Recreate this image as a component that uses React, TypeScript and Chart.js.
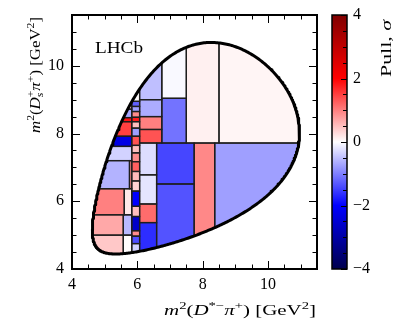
import React, { useEffect, useRef } from 'react';
import { Chart, registerables } from 'chart.js';
Chart.register(...registerables);

// Axis settings
const axisMin = 4;
const axisMax = 11.5;
const xTicks = [4, 6, 8, 10];
const yTicks = [4, 6, 8, 10];
const pullMin = -4;
const pullMax = 4;
const pullTicks = [-4, -2, 0, 2, 4];

// Particle masses (GeV) defining the Dalitz boundary of B0 -> D*- Ds+ pi+
const mB = 5.27966;
const mDst = 2.01026;
const mPi = 0.13957;
const mDs = 1.96835;

// Adaptive bins: edges in m2(D*pi) (x) and m2(Ds pi) (y), and pull values
const binX0 = [7.5, 8.5, 6.75, 6.75, 6.07, 6.07, 6.07, 6.07, 8.37, 7.74, 6.59, 6.59, 6.07, 6.07, 6.07, 6.07,
  5.83, 5.83, 5.83, 5.83, 5.83, 5.83, 5.83, 5.83, 5.83, 5.83, 5.83, 5.83, 5.83, 5.83, 5.83, 5.83, 5.83, 5.83, 5.83,
  4.4, 4.4, 4.4, 4.4, 4.4,
  4.4, 4.4, 4.4, 5.76, 4.4, 5.6, 4.4, 5.57, 4.4, 5.57];
const binX1 = [8.5, 11.5, 7.5, 7.5, 6.75, 6.75, 6.75, 6.75, 11.5, 8.37, 7.74, 7.74, 6.59, 6.59, 6.59, 6.59,
  6.07, 6.07, 6.07, 6.07, 6.07, 6.07, 6.07, 6.07, 6.07, 6.07, 6.07, 6.07, 6.07, 6.07, 6.07, 6.07, 6.07, 6.07, 6.07,
  5.83, 5.83, 5.83, 5.83, 5.83,
  5.83, 5.83, 5.76, 5.83, 5.6, 5.83, 5.57, 5.83, 5.57, 5.83];
const binY0 = [7.72, 7.72, 9.04, 7.72, 9.0, 8.5, 8.12, 7.72, 4.0, 4.0, 6.51, 4.0, 6.78, 5.92, 5.37, 4.0,
  4.0, 4.75, 4.97, 5.13, 5.55, 5.85, 6.3, 6.6, 6.88, 7.17, 7.43, 7.65, 7.92, 8.16, 8.35, 8.48, 8.65, 8.8, 8.95,
  7.92, 8.35, 8.47, 8.72, 8.95,
  7.62, 7.2, 6.37, 6.37, 5.6, 5.6, 5.0, 5.0, 4.0, 4.0];
const binY1 = [11.5, 11.5, 11.5, 9.04, 11.5, 9.0, 8.5, 8.12, 7.72, 7.72, 7.72, 6.51, 7.72, 6.78, 5.92, 5.37,
  4.75, 4.97, 5.13, 5.55, 5.85, 6.3, 6.6, 6.88, 7.17, 7.43, 7.65, 7.92, 8.16, 8.35, 8.48, 8.65, 8.8, 8.95, 9.5,
  8.35, 8.47, 8.72, 8.95, 9.5,
  7.92, 7.62, 7.2, 7.2, 6.37, 6.37, 5.6, 5.6, 5.0, 5.0];
const binPull = [0.12, 0.08, -0.05, -1.1, -0.5, -0.65, 1.0, 1.35, -0.75, 0.93, -1.45, -1.35, -0.27, -0.2, 1.15, -1.65,
  -0.35, -1.4, 0.9, -2.6, 0.5, -2.0, 0.35, 0.55, 1.25, 0.9, 0.5, 1.35, -0.75, 0.5, 1.8, 0.9, -0.75, -1.25, 0.02,
  1.5, 1.9, -0.7, 0.5, 0.0,
  -2.3, -0.35, -0.6, 0.9, 1.0, 0.18, 0.68, -0.55, 0.43, 0.02];

const SERIF = '"Liberation Serif", "DejaVu Serif", serif';

function dalitzBoundary() {
  const xmin = (mDst + mPi) * (mDst + mPi);
  const xmax = (mB - mDs) * (mB - mDs);
  const upper: { x: number; y: number }[] = [];
  const lower: { x: number; y: number }[] = [];
  const N = 240;
  for (let i = 0; i <= N; i++) {
    const th = (Math.PI * i) / N;
    const x = xmin + ((xmax - xmin) * (1 - Math.cos(th))) / 2;
    const s = Math.sqrt(x);
    const E2 = (x - mDst * mDst + mPi * mPi) / (2 * s);
    const E3 = (mB * mB - x - mDs * mDs) / (2 * s);
    const p2 = Math.sqrt(Math.max(0, E2 * E2 - mPi * mPi));
    const p3 = Math.sqrt(Math.max(0, E3 * E3 - mDs * mDs));
    const e = (E2 + E3) * (E2 + E3);
    upper.push({ x, y: e - (p2 - p3) * (p2 - p3) });
    lower.push({ x, y: e - (p2 + p3) * (p2 + p3) });
  }
  return upper.concat(lower.reverse());
}

function seismic(p: number) {
  const t = Math.min(1, Math.max(0, (p - pullMin) / (pullMax - pullMin)));
  let r: number, g: number, b: number;
  if (t < 0.25) { r = 0; g = 0; b = 0.3 + (0.7 * t) / 0.25; }
  else if (t < 0.5) { const u = (t - 0.25) / 0.25; r = u; g = u; b = 1; }
  else if (t < 0.75) { const u = (t - 0.5) / 0.25; r = 1; g = 1 - u; b = 1 - u; }
  else { const u = (t - 0.75) / 0.25; r = 1 - 0.5 * u; g = 0; b = 0; }
  return `rgb(${Math.round(r * 255)},${Math.round(g * 255)},${Math.round(b * 255)})`;
}

type Seg = { t?: string; it?: boolean; pos?: 'sup' | 'sub'; sub?: string; sup?: string };

function drawRich(ctx: CanvasRenderingContext2D, segs: Seg[], size: number, x: number, y: number, targetW: number, rotate: boolean) {
  const font = (it: boolean | undefined, fs: number) => `${it ? 'italic ' : ''}${fs}px ${SERIF}`;
  const small = size * 0.7;
  let W = 0;
  const widths: number[] = [];
  for (const s of segs) {
    let w = 0;
    if (s.sub !== undefined || s.sup !== undefined) {
      ctx.font = font(true, small);
      const w1 = ctx.measureText(s.sub || '').width;
      ctx.font = font(false, small);
      const w2 = ctx.measureText(s.sup || '').width;
      w = Math.max(w1, w2);
    } else {
      ctx.font = font(s.it, s.pos ? small : size);
      w = ctx.measureText(s.t || '').width;
    }
    widths.push(w);
    W += w;
  }
  ctx.save();
  ctx.translate(x, y);
  if (rotate) ctx.rotate(-Math.PI / 2);
  ctx.scale(targetW / W, 1);
  ctx.fillStyle = '#000';
  ctx.textBaseline = 'alphabetic';
  ctx.textAlign = 'left';
  let cx = 0;
  segs.forEach((s, i) => {
    if (s.sub !== undefined || s.sup !== undefined) {
      ctx.font = font(true, small);
      ctx.fillText(s.sub || '', cx, size * 0.22);
      ctx.font = font(false, small);
      ctx.fillText(s.sup || '', cx, -size * 0.4);
    } else {
      ctx.font = font(s.it, s.pos ? small : size);
      const dy = s.pos === 'sup' ? -size * 0.4 : s.pos === 'sub' ? size * 0.22 : 0;
      ctx.fillText(s.t || '', cx, dy);
    }
    cx += widths[i];
  });
  ctx.restore();
}

const xTitle: Seg[] = [
  { t: 'm', it: true }, { t: '2', pos: 'sup' }, { t: '(' }, { t: 'D', it: true }, { t: '*\u2212', pos: 'sup' },
  { t: '\u03c0', it: true }, { t: '+', pos: 'sup' }, { t: ') [GeV' }, { t: '2', pos: 'sup' }, { t: ']' },
];
const yTitle: Seg[] = [
  { t: 'm', it: true }, { t: '2', pos: 'sup' }, { t: '(' }, { t: 'D', it: true }, { sub: 's', sup: '+' },
  { t: '\u03c0', it: true }, { t: '+', pos: 'sup' }, { t: ') [GeV' }, { t: '2', pos: 'sup' }, { t: ']' },
];
const cbTitle: Seg[] = [{ t: 'Pull, ' }, { t: '\u03c3', it: true }];
const lhcb: Seg[] = [{ t: 'LHCb' }];

const dalitzPlugin = {
  id: 'dalitzBins',
  beforeDatasetsDraw(chart: any) {
    const { ctx, scales } = chart;
    const xs = scales.x, ys = scales.y;
    const pts = chart.data.datasets[0].data as { x: number; y: number }[];
    ctx.save();
    ctx.beginPath();
    pts.forEach((p, i) => {
      const px = xs.getPixelForValue(p.x), py = ys.getPixelForValue(p.y);
      if (i === 0) ctx.moveTo(px, py); else ctx.lineTo(px, py);
    });
    ctx.closePath();
    ctx.clip();
    for (let i = 0; i < binPull.length; i++) {
      const l = xs.getPixelForValue(binX0[i]);
      const r = xs.getPixelForValue(binX1[i]);
      const t = ys.getPixelForValue(binY1[i]);
      const b = ys.getPixelForValue(binY0[i]);
      ctx.fillStyle = seismic(binPull[i]);
      ctx.fillRect(l, t, r - l, b - t);
    }
    ctx.strokeStyle = '#1e1e1e';
    ctx.lineWidth = 1.3;
    for (let i = 0; i < binPull.length; i++) {
      const l = xs.getPixelForValue(binX0[i]);
      const r = xs.getPixelForValue(binX1[i]);
      const t = ys.getPixelForValue(binY1[i]);
      const b = ys.getPixelForValue(binY0[i]);
      ctx.strokeRect(l, t, r - l, b - t);
    }
    ctx.restore();
  },
  afterDraw(chart: any) {
    const { ctx, chartArea: a, scales } = chart;
    const xs = scales.x, ys = scales.y, cb = scales.cb;
    ctx.save();
    ctx.strokeStyle = '#000';
    ctx.lineWidth = 1;
    ctx.beginPath();
    for (let v = axisMin; v <= axisMax + 1e-9; v += 0.5) {
      const major = xTicks.includes(v);
      const len = major ? 8 : 4.5;
      const px = Math.round(xs.getPixelForValue(v)) + 0.5;
      ctx.moveTo(px, a.bottom); ctx.lineTo(px, a.bottom - len);
      ctx.moveTo(px, a.top); ctx.lineTo(px, a.top + len);
      const majY = yTicks.includes(v);
      const lenY = majY ? 8 : 4.5;
      const py = Math.round(ys.getPixelForValue(v)) + 0.5;
      ctx.moveTo(a.left, py); ctx.lineTo(a.left + lenY, py);
      ctx.moveTo(a.right, py); ctx.lineTo(a.right - lenY, py);
    }
    ctx.stroke();
    ctx.lineWidth = 2;
    ctx.strokeRect(a.left, a.top, a.right - a.left, a.bottom - a.top);

    // colour bar
    const cbL = a.right + 15, cbW = 15;
    const cbT = cb.getPixelForValue(pullMax), cbB = cb.getPixelForValue(pullMin);
    const grad = ctx.createLinearGradient(0, cbB, 0, cbT);
    [0, 0.25, 0.5, 0.75, 1].forEach((s) => grad.addColorStop(s, seismic(pullMin + s * (pullMax - pullMin))));
    ctx.fillStyle = grad;
    ctx.fillRect(cbL, cbT, cbW, cbB - cbT);
    ctx.lineWidth = 1;
    ctx.beginPath();
    for (let v = pullMin; v <= pullMax + 1e-9; v += 0.5) {
      const py = Math.round(cb.getPixelForValue(v)) + 0.5;
      const len = pullTicks.includes(v) ? 6 : 4;
      ctx.moveTo(cbL + cbW, py); ctx.lineTo(cbL + cbW - len, py);
    }
    ctx.stroke();
    ctx.lineWidth = 1.5;
    ctx.strokeRect(cbL, cbT, cbW, cbB - cbT);
    ctx.restore();

    drawRich(ctx, lhcb, 16, a.left + 23, a.top + 38, 48, false);
    drawRich(ctx, xTitle, 15, a.right - 153, 315, 152, false);
    drawRich(ctx, yTitle, 14, 40, a.top + 118, 116, true);
    drawRich(ctx, cbTitle, 15, 391, a.top + 62, 57, true);
  },
};

const noPad = (s: any) => { s.paddingTop = 0; s.paddingBottom = 0; s.paddingLeft = 0; s.paddingRight = 0; };

export default function App() {
  const ref = useRef<HTMLCanvasElement>(null);
  useEffect(() => {
    if (!ref.current) return;
    const boundary = dalitzBoundary();
    const tickFont = { family: SERIF, size: 16 };
    const chart = new Chart(ref.current, {
      type: 'scatter',
      data: {
        datasets: [{
          data: boundary,
          showLine: true,
          borderColor: '#000',
          borderWidth: 3,
          borderJoinStyle: 'round',
          borderCapStyle: 'round',
          pointRadius: 0,
          tension: 0,
          xAxisID: 'x',
          yAxisID: 'y',
        }],
      },
      options: {
        responsive: false,
        animation: false,
        events: [],
        layout: { padding: { top: 15, left: 0, right: 0, bottom: 0 } },
        plugins: { legend: { display: false }, tooltip: { enabled: false } },
        scales: {
          x: {
            type: 'linear', position: 'bottom', min: axisMin, max: axisMax,
            grid: { display: false, drawTicks: false }, border: { display: false },
            afterBuildTicks: (s: any) => { s.ticks = xTicks.map((v) => ({ value: v })); },
            afterFit: (s: any) => { s.height = 53; noPad(s); },
            ticks: { font: tickFont, color: '#000', padding: 6, maxRotation: 0, autoSkip: false },
          },
          y: {
            type: 'linear', position: 'left', min: axisMin, max: axisMax,
            grid: { display: false, drawTicks: false }, border: { display: false },
            afterBuildTicks: (s: any) => { s.ticks = yTicks.map((v) => ({ value: v })); },
            afterFit: (s: any) => { s.width = 72; noPad(s); },
            ticks: { font: tickFont, color: '#000', padding: 8, autoSkip: false },
          },
          cb: {
            type: 'linear', position: 'right', axis: 'y', min: pullMin, max: pullMax,
            grid: { display: false, drawTicks: false }, border: { display: false },
            afterBuildTicks: (s: any) => { s.ticks = pullTicks.map((v) => ({ value: v })); },
            afterFit: (s: any) => { s.width = 82; noPad(s); },
            ticks: {
              font: tickFont, color: '#000', padding: 36, autoSkip: false,
              callback: (v: any) => (Number(v) < 0 ? '\u2212' + Math.abs(Number(v)) : String(v)),
            },
          },
        },
      } as any,
      plugins: [dalitzPlugin],
    });
    return () => chart.destroy();
  }, []);
  return (
    <div style={{ position: 'fixed', left: 0, top: 0, width: 399, height: 322, background: '#fff' }}>
      <canvas ref={ref} width={399} height={322} style={{ display: 'block' }} />
    </div>
  );
}
